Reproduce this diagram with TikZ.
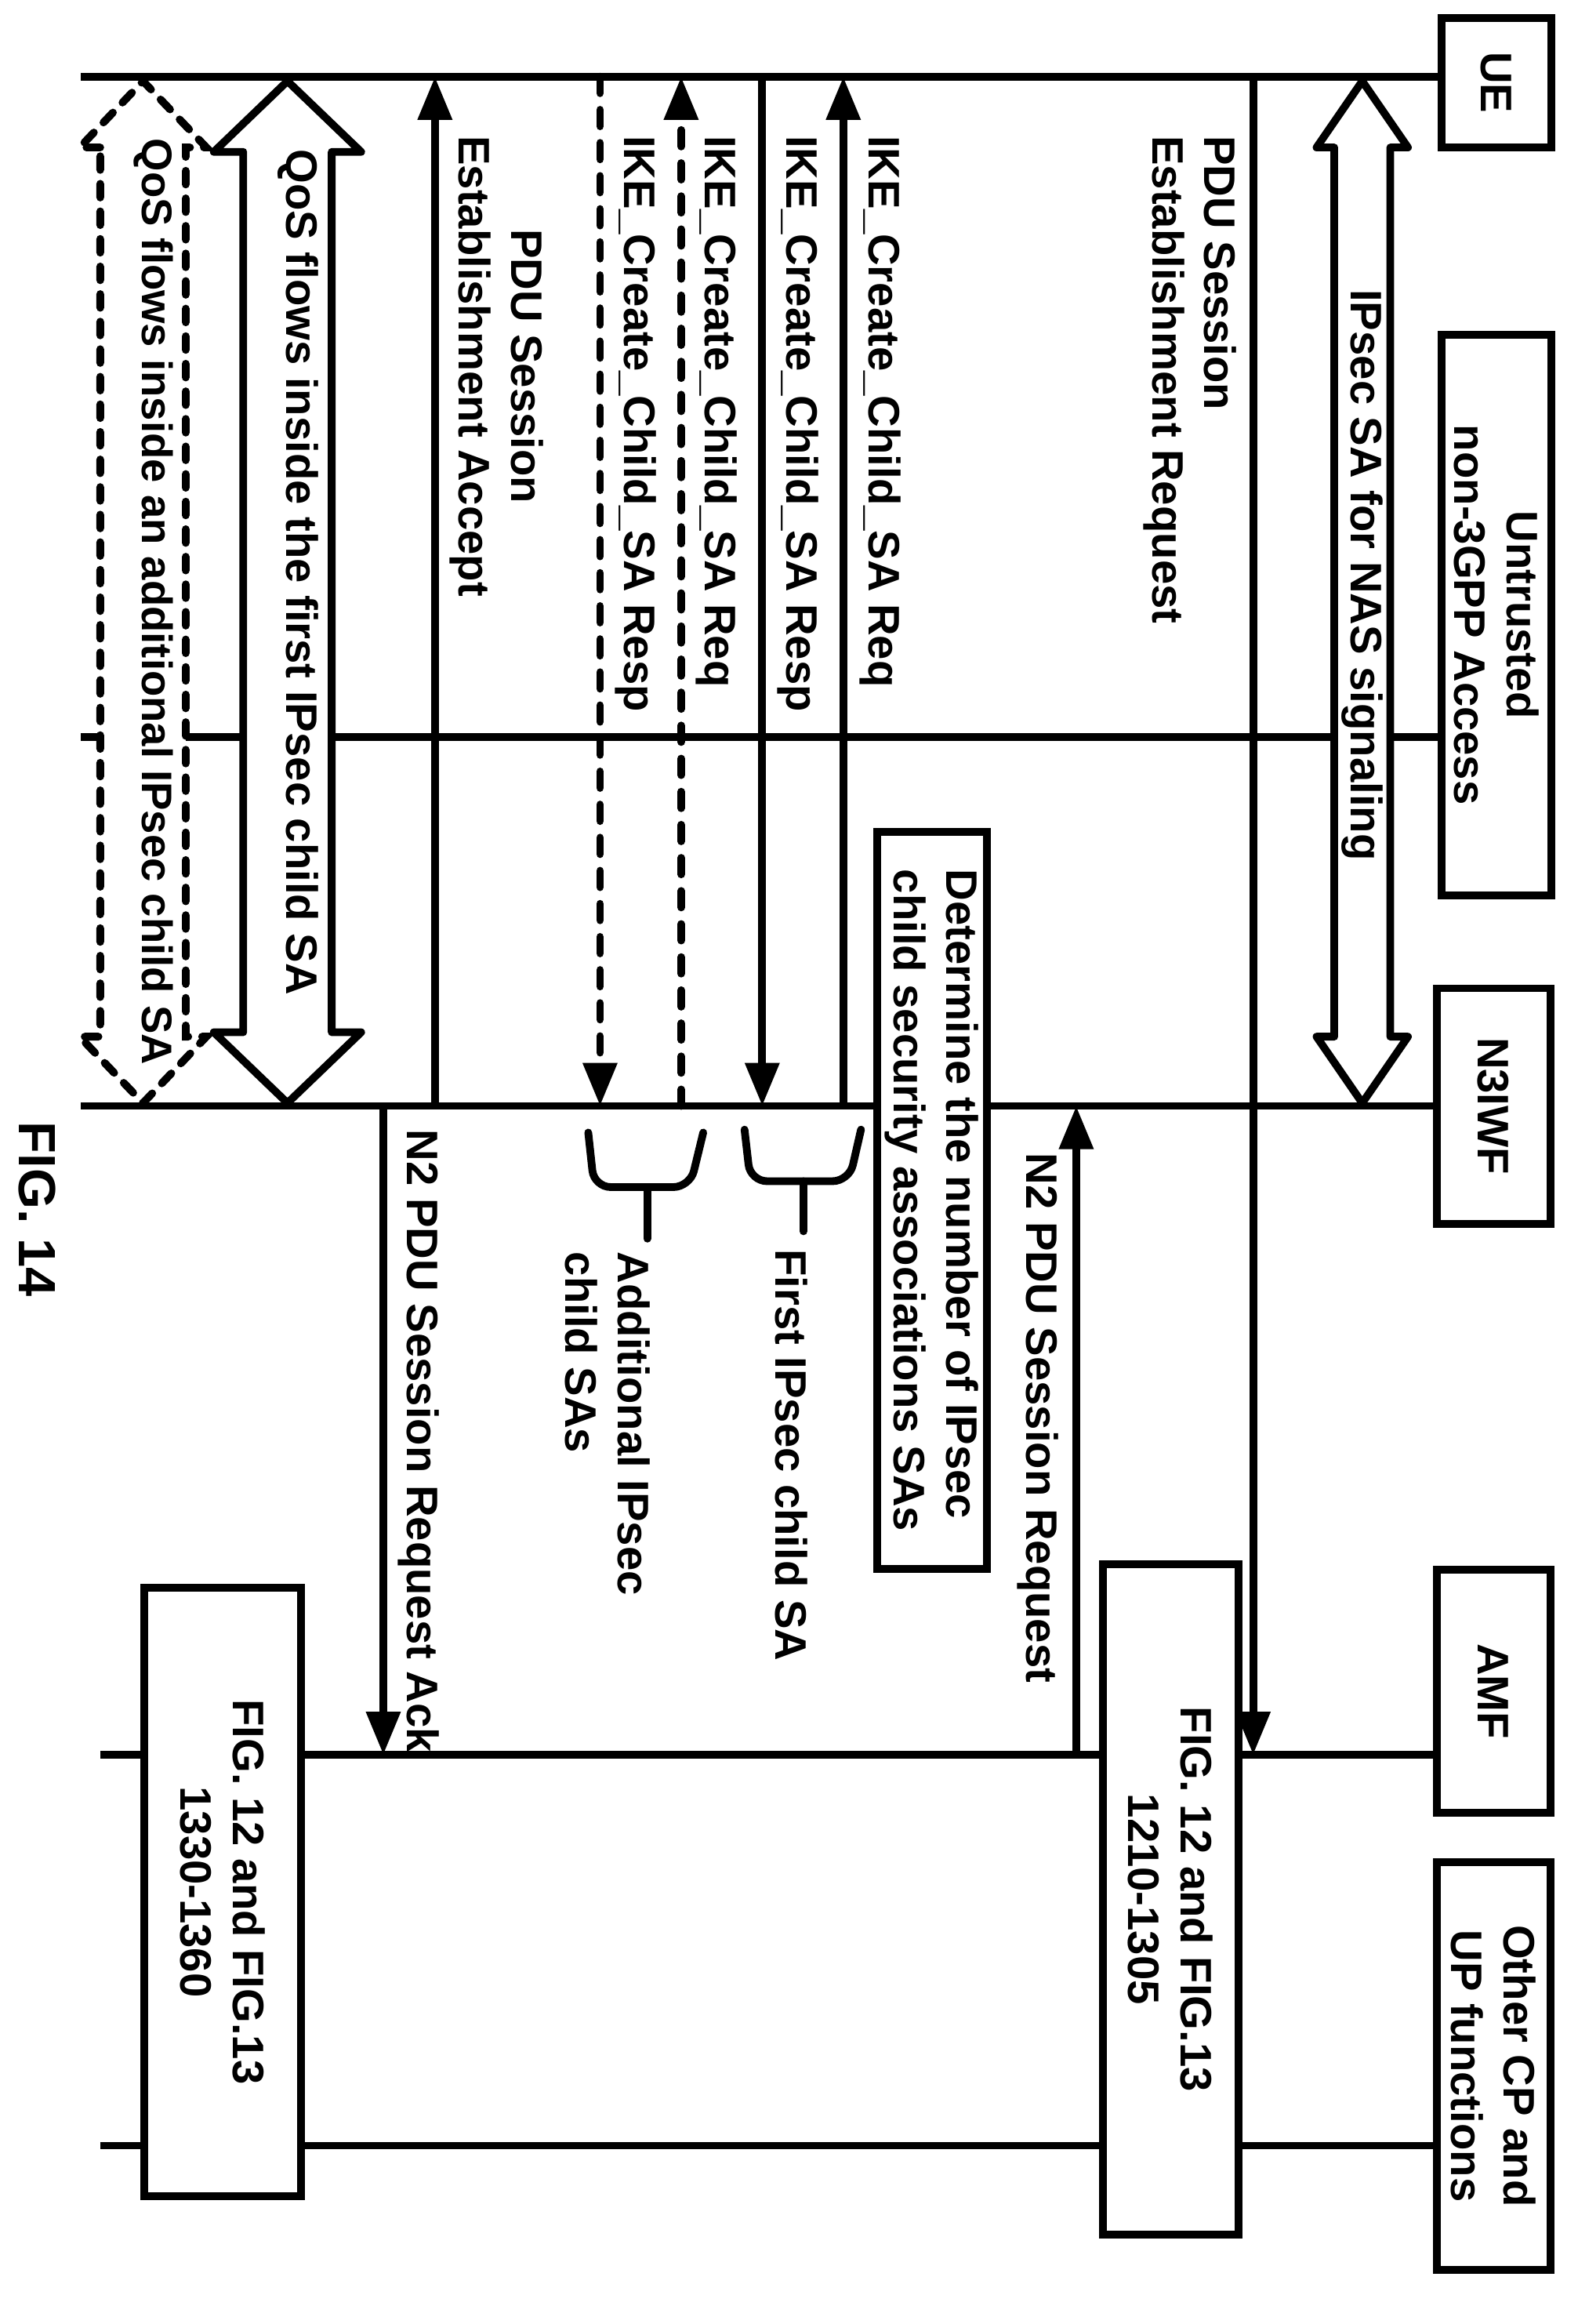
\documentclass[tikz,border=0pt]{standalone}
\usepackage{fontspec}
\setmainfont{Liberation Sans}
\usetikzlibrary{arrows.meta}
\tikzset{
  txt/.style={rotate=-90, font=\fontsize{16}{19}\selectfont\bfseries, inner sep=2pt},
  party/.style={txt, draw, fill=white, align=center, line width=2.8pt},
  life/.style={line width=2.8pt},
  msg/.style={line width=2.8pt, -{Triangle[length=0.55cm,width=0.42cm]}},
  msgdash/.style={msg, dash pattern=on 6pt off 6pt, line cap=round},
  brace/.style={line width=2.8pt, rounded corners=6pt, line cap=round},
}
\newcommand{\blockarrow}[7]{% style, x, ya, yb, shaft, head, length
  \draw[#1] ({#2-#5},{#3+#7}) -- ({#2-#6},{#3+#7}) -- (#2,#3) -- ({#2+#6},{#3+#7})
    -- ({#2+#5},{#3+#7}) -- ({#2+#5},{#4-#7}) -- ({#2+#6},{#4-#7}) -- (#2,#4)
    -- ({#2-#6},{#4-#7}) -- ({#2-#5},{#4-#7}) -- cycle;}
\begin{document}
\begin{tikzpicture}[x=0.0188cm, y=-0.0188cm]
  \useasboundingbox (0,0) rectangle (1070,1576);
  % participants
  \node (ue) [party, minimum width=1.65cm, minimum height=1.4cm] at (1015,56) {UE};
  \node (acc) [party, minimum width=7.15cm, minimum height=1.4cm] at (1015,417) {Untrusted\\non-3GPP Access};
  \node (n3) [party, minimum width=3.0cm, minimum height=1.45cm] at (1013,750) {N3IWF};
  \node (amf) [party, minimum width=3.1cm, minimum height=1.45cm] at (1013,1147) {AMF};
  \node (oth) [party, minimum width=5.2cm, minimum height=1.45cm] at (1013,1401) {Other CP and\\UP functions};
  \coordinate (lft) at (55,0);
  \coordinate (lft2) at (68,0);
  % lifelines
  \draw[life] (lft |- {0,52}) -- (ue.south |- {0,52});
  \draw[life] (lft |- {0,500}) -- (acc.south |- {0,500});
  \draw[life] (lft |- {0,750}) -- (n3.south);
  \draw[life] (lft2 |- {0,1190}) -- (amf.south |- {0,1190});
  \draw[life] (lft2 |- {0,1455}) -- (oth.south |- {0,1455});
  % message positions
  \coordinate (m1) at (850,0);
  \coordinate (m2) at (730,0);
  \coordinate (m3) at (572,0);
  \coordinate (m4) at (517,0);
  \coordinate (m5) at (462,0);
  \coordinate (m6) at (407,0);
  \coordinate (m7) at (295,0);
  \coordinate (m8) at (260,0);
  % boxes on AMF / others
  \node (fa) [party, minimum width=8.55cm, minimum height=1.73cm] at (794,1288) {FIG. 12 and FIG.13\\1210-1305};
  \node (fb) [party, minimum width=7.76cm, minimum height=2.0cm] at (151,1283) {FIG. 12 and FIG.13\\1330-1360};
  % IPsec SA for NAS
  \blockarrow{line width=2.8pt, fill=white, line join=round}{924}{55}{748}{19}{31}{45}
  \node (nas) [txt] at (924,390) {IPsec SA for NAS signaling};
  % messages
  \draw[msg] (m1 |- {0,52}) -- (m1 |- {0,1190});
  \node (l1) [txt, anchor=north west, align=left] at (843,88) {PDU Session\\Establishment Request};
  \draw[msg] (m2 |- {0,1190}) -- (m2 |- n3.south);
  \node (l2) [txt, anchor=north west] at (722,778) {N2 PDU Session Request};
  \node (det) [party, minimum width=9.4cm, minimum height=1.4cm, align=left] at (632,814) {Determine the number of IPsec\\child security associations SAs};
  \draw[msg] (m3 |- n3.south) -- (m3 |- {0,52});
  \node (l3) [txt, anchor=south west] at (579,88) {IKE\_Create\_Child\_SA Req};
  \draw[msg] (m4 |- {0,52}) -- (m4 |- n3.south);
  \node (l4) [txt, anchor=south west] at (523,88) {IKE\_Create\_Child\_SA Resp};
  \draw[msgdash] (m5 |- n3.south) -- (m5 |- {0,52});
  \node (l5) [txt, anchor=south west] at (468,88) {IKE\_Create\_Child\_SA Req};
  \draw[msgdash] (m6 |- {0,52}) -- (m6 |- n3.south);
  \node (l6) [txt, anchor=south west] at (413,88) {IKE\_Create\_Child\_SA Resp};
  \draw[msg] (m7 |- n3.south) -- (m7 |- {0,52});
  \node (l7) [txt, anchor=south west, align=center] at (301,88) {PDU Session\\Establishment Accept};
  \draw[msg] (m8 |- n3.south) -- (m8 |- {0,1190});
  \node (l8) [txt, anchor=south west] at (266,762) {N2 PDU Session Request Ack};
  % child SA braces
  \draw[brace] (584,766) -- (576,801) -- (509,801) -- (505,766);
  \draw[brace] (545,801) -- (545,835);
  \node (b1) [txt, anchor=west] at (537,843) {First IPsec child SA};
  \draw[brace] (477,768) -- (468,805) -- (403,805) -- (399,768);
  \draw[brace] (439,805) -- (439,840);
  \node (b2) [txt, anchor=west, align=left] at (412,845) {Additional IPsec\\child SAs};
  % QoS flows
  \blockarrow{line width=2.8pt, fill=white, line join=round}{195}{55}{748}{30}{50}{48}
  \node (q1) [txt] at (202,388) {QoS flows inside the first IPsec child SA};
  \blockarrow{line width=2.8pt, fill=white, dash pattern=on 5pt off 5pt, line cap=round}{97}{55}{748}{29}{43}{45}
  \node (q2) [txt, font=\fontsize{15.5}{18}\selectfont\bfseries] at (104,408) {QoS flows inside an additional IPsec child SA};
  \node (fig) [txt, font=\fontsize{19}{22}\selectfont\bfseries] at (25,820) {FIG. 14};
\end{tikzpicture}
\end{document}
